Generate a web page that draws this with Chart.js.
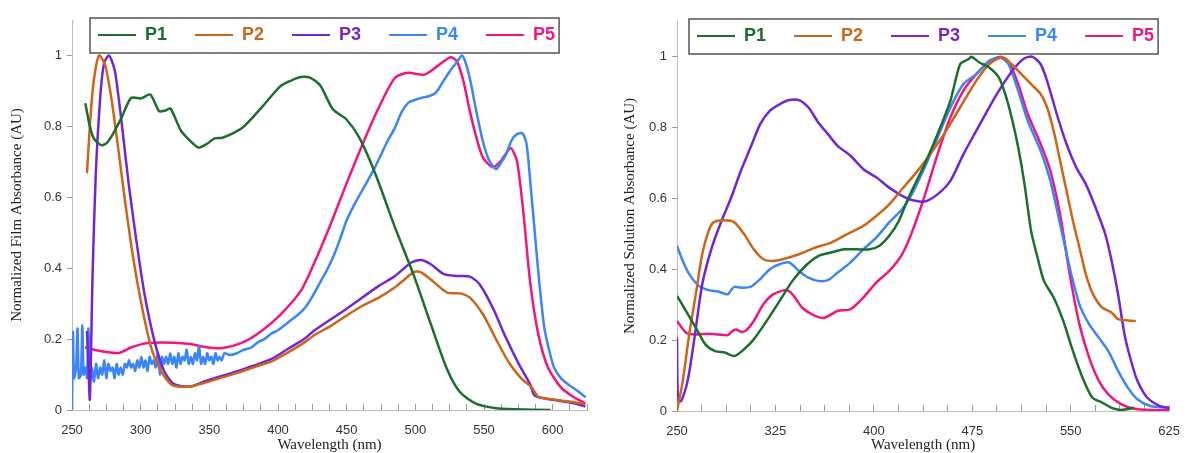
<!DOCTYPE html>
<html>
<head>
<meta charset="utf-8">
<script src="https://cdn.jsdelivr.net/npm/chart.js@4.4.1/dist/chart.umd.min.js"></script>
<style>
    html, body { margin: 0; padding: 0; background: #fff; }
    #wrap { position: relative; width: 1199px; height: 453px; }
    .panel { position: absolute; top: 0; }
</style>
</head>
<body>
<div id="wrap">
    <div class="panel" style="left:0;width:606px;height:453px"><canvas id="film-chart" width="606" height="453"></canvas></div>
    <div class="panel" style="left:606px;width:593px;height:453px"><canvas id="solution-chart" width="593" height="453"></canvas></div>
</div>
<script>
const seriesNames = ['P1', 'P2', 'P3', 'P4', 'P5'];
const seriesColors = ['#1b6e2c', '#cc6518', '#7424d8', '#3a86f8', '#f3157f'];

const yTicks = [0, 0.2, 0.4, 0.6, 0.8, 1];
const filmXLabels = [250, 300, 350, 400, 450, 500, 550, 600];
const solutionXLabels = [250, 325, 400, 475, 550, 625];

// film spectra: [wavelength nm, normalized absorbance]
const filmP1 = [[259.7,0.865],[263,0.80],[266,0.765],[271.3,0.747],[275,0.752],[279,0.773],[286,0.824],[293,0.88],[300.5,0.879],[307,0.89],[313.5,0.843],[318,0.845],[321.8,0.85],[329,0.79],[335,0.763],[342,0.74],[348,0.75],[353.8,0.766],[359.7,0.768],[374,0.796],[388,0.853],[402,0.914],[410,0.93],[416.6,0.939],[423.7,0.937],[430.8,0.915],[440,0.848],[449.7,0.82],[459.2,0.768],[471,0.665],[485.2,0.515],[499.4,0.374],[511.3,0.242],[523.1,0.115],[532.6,0.05],[544.5,0.017],[558.7,0.005],[572.9,0.002],[598.5,0]];
const filmP2 = [[260.9,0.668],[263,0.8],[265,0.9],[267.5,0.97],[269.7,1.0],[272,0.99],[274.4,0.97],[279,0.871],[283.9,0.73],[288.6,0.59],[294.5,0.43],[300.5,0.30],[307.6,0.177],[314.7,0.111],[321.8,0.073],[326.5,0.066],[336,0.066],[347.9,0.078],[359.7,0.092],[371.6,0.106],[383.4,0.122],[395.3,0.137],[407.1,0.162],[419,0.19],[426,0.21],[437.8,0.236],[449.7,0.266],[461.5,0.294],[473.4,0.317],[485.2,0.346],[492.3,0.369],[499.4,0.39],[504.2,0.388],[513.7,0.36],[523.1,0.331],[532.6,0.329],[539.7,0.317],[549.2,0.27],[558.7,0.2],[568.1,0.134],[577.6,0.087],[584.7,0.064],[589.5,0.038],[601.3,0.029],[615.5,0.022],[623.8,0.017]];
const filmP3 = [[260.9,0.223],[262,0.12],[263,0.03],[265,0.383],[267.3,0.665],[270.9,0.9],[273.5,0.98],[276.8,1.0],[279,0.985],[281.5,0.951],[286.3,0.806],[291,0.646],[296.9,0.477],[302.8,0.327],[310,0.195],[317,0.111],[324.2,0.073],[336,0.066],[347.9,0.083],[371.6,0.111],[395.3,0.144],[407.1,0.172],[419,0.2],[426,0.223],[449.7,0.285],[473.4,0.35],[485.2,0.378],[497.1,0.416],[504.2,0.423],[511.3,0.411],[520.8,0.383],[530.2,0.378],[539.7,0.376],[546.8,0.355],[556.3,0.289],[565.8,0.205],[575.3,0.13],[583.5,0.073],[587.1,0.04],[601.3,0.028],[615.5,0.019],[623.8,0.01]];
const filmP4 = [[250,0],[250.7,0.22],[251.5,0.09],[253,0.12],[254,0.23],[255,0.09],[256.5,0.1],[257.5,0.24],[258.5,0.1],[260,0.12],[261,0.09],[262,0.23],[263,0.08],[264.5,0.12],[266,0.08],[267.5,0.13],[269,0.09],[270.5,0.12],[272,0.1],[273.5,0.14],[275,0.09],[276.5,0.13],[278,0.11],[279.5,0.12],[281,0.09],[282.5,0.13],[284,0.1],[285.5,0.12],[287,0.1],[288.5,0.13],[290,0.12],[291.5,0.14],[293,0.12],[294.5,0.13],[296,0.11],[297.5,0.14],[299,0.12],[300.5,0.15],[302,0.12],[303.5,0.14],[305,0.11],[306.5,0.15],[308,0.13],[309.5,0.14],[311,0.12],[312.5,0.16],[314,0.1],[315.5,0.15],[317,0.13],[318.5,0.15],[320,0.13],[321.5,0.16],[323,0.13],[324.5,0.15],[326,0.12],[327.5,0.16],[329,0.13],[330.5,0.15],[332,0.14],[333.5,0.17],[335,0.13],[336.5,0.15],[338,0.13],[339.5,0.16],[341,0.14],[342.5,0.18],[344,0.13],[345.5,0.15],[347,0.13],[348.5,0.16],[350,0.14],[351.5,0.15],[353,0.13],[354.5,0.16],[356,0.14],[357.5,0.15],[359,0.14],[361,0.16],[365,0.155],[370,0.16],[375,0.17],[380,0.175],[385,0.19],[390,0.2],[395,0.215],[400,0.225],[405,0.24],[410,0.255],[415,0.27],[420,0.29],[425,0.32],[430,0.355],[435,0.39],[440,0.43],[445,0.48],[450,0.535],[455,0.575],[460,0.61],[465,0.645],[470,0.68],[475,0.72],[480,0.76],[485,0.795],[490,0.84],[495,0.867],[500,0.875],[505,0.881],[510,0.885],[515,0.895],[520,0.925],[525,0.955],[530,0.98],[534,1.0],[537,0.975],[540,0.93],[544,0.85],[549,0.76],[553,0.71],[556,0.69],[559,0.68],[562,0.695],[566,0.72],[570,0.76],[574,0.778],[578,0.78],[581,0.75],[584,0.63],[587,0.5],[590,0.37],[594,0.23],[598,0.16],[601,0.12],[606,0.09],[611,0.073],[618,0.054],[624,0.036]];
const filmP5 = [[259.5,0.177],[269.7,0.167],[283.9,0.161],[293.4,0.177],[305.2,0.189],[324.2,0.19],[336,0.186],[347.9,0.177],[359.7,0.175],[374,0.19],[388,0.223],[402,0.27],[416.6,0.336],[426,0.411],[437.8,0.519],[449.7,0.637],[461.5,0.749],[473.4,0.853],[485.2,0.937],[494.7,0.951],[506.6,0.946],[516,0.97],[525.5,0.995],[530.2,0.984],[535,0.928],[539.7,0.843],[544.5,0.768],[549.2,0.712],[556.3,0.685],[562.2,0.702],[569.3,0.738],[574,0.702],[578.8,0.552],[583.5,0.364],[589.5,0.214],[596.6,0.12],[606,0.064],[615.5,0.036],[623.8,0.019]];

// solution spectra
const solutionP1 = [[250,0.325],[256.9,0.282],[264.3,0.235],[271.6,0.188],[279,0.169],[286.4,0.165],[293.7,0.155],[301.1,0.174],[308.5,0.202],[318.3,0.254],[328.1,0.31],[338,0.367],[347.8,0.409],[357.6,0.437],[367.4,0.447],[377.3,0.456],[387.1,0.456],[396.9,0.456],[404.3,0.466],[411.7,0.494],[419,0.536],[426.4,0.602],[438.7,0.696],[448.5,0.781],[458.3,0.875],[465.7,0.978],[471.9,0.992],[474.3,0.999],[480.4,0.983],[487.8,0.969],[495.2,0.941],[500.1,0.894],[505,0.828],[510,0.743],[514.8,0.64],[519.8,0.508],[524.7,0.433],[529.6,0.367],[537,0.32],[544.3,0.254],[551.7,0.169],[559,0.094],[566.4,0.038],[573.8,0.024],[581.2,0.009],[588.6,0.003],[598.4,0.009]];
const solutionP2 = [[250,0],[254.4,0.085],[259.3,0.216],[264.3,0.329],[269.2,0.442],[274.1,0.508],[277.8,0.532],[286.4,0.538],[293.7,0.532],[301.1,0.499],[308.5,0.456],[315.8,0.428],[323.2,0.423],[330.6,0.428],[342.9,0.442],[355.2,0.461],[367.4,0.475],[379.7,0.499],[392,0.522],[401.8,0.55],[411.7,0.583],[421.5,0.626],[431.3,0.668],[441.1,0.715],[453.4,0.781],[465.7,0.856],[478,0.931],[487.8,0.978],[497.6,0.997],[505,0.978],[512.4,0.95],[519.8,0.922],[527.1,0.894],[532,0.856],[537,0.79],[541.9,0.706],[546.8,0.621],[551.7,0.536],[556.6,0.461],[561.5,0.386],[566.4,0.334],[573.8,0.292],[581.2,0.278],[586.1,0.259],[599.6,0.254]];
const solutionP3 = [[250,0.207],[250.8,0.03],[253.2,0.028],[258.1,0.085],[263,0.198],[269.2,0.357],[276.5,0.461],[283.9,0.536],[291.3,0.602],[298.6,0.677],[306,0.743],[313.4,0.809],[320.8,0.847],[328.1,0.865],[335.5,0.877],[342.9,0.877],[350.2,0.856],[357.6,0.814],[365,0.781],[372.3,0.748],[382.2,0.72],[392,0.682],[401.8,0.659],[411.7,0.63],[421.5,0.607],[428.9,0.595],[438.7,0.591],[448.5,0.611],[458.3,0.649],[468.2,0.724],[478,0.79],[487.8,0.856],[497.6,0.917],[507.5,0.969],[514.8,0.995],[521,0.999],[527.1,0.978],[532,0.931],[539.4,0.837],[546.8,0.753],[554.2,0.687],[561.5,0.64],[568.9,0.574],[576.3,0.499],[581.2,0.423],[586.1,0.329],[591,0.216],[596,0.141],[600.8,0.085],[608.2,0.038],[618,0.014],[625,0.009]];
const solutionP4 = [[250,0.466],[254.4,0.423],[259.3,0.386],[266.7,0.353],[274.1,0.341],[281.4,0.337],[288.8,0.329],[291,0.34],[293.7,0.35],[298.6,0.348],[306,0.35],[313.4,0.372],[320.8,0.4],[328.1,0.414],[335.5,0.419],[342.9,0.395],[350.2,0.376],[357.6,0.367],[365,0.369],[372.3,0.39],[382.2,0.419],[392,0.456],[401.8,0.489],[411.7,0.532],[421.5,0.569],[428.9,0.611],[438.7,0.687],[448.5,0.771],[458.3,0.856],[468.2,0.922],[478,0.95],[487.8,0.988],[496.4,0.997],[502.6,0.978],[510,0.903],[517.3,0.818],[527.1,0.734],[534.5,0.649],[541.9,0.527],[549.2,0.405],[556.6,0.301],[564,0.245],[571.4,0.207],[578.7,0.169],[586.1,0.113],[593.5,0.066],[600.8,0.033],[610.7,0.014],[625,0.009]];
const solutionP5 = [[250,0.254],[256.9,0.221],[264.3,0.216],[274.1,0.218],[281.4,0.216],[288.8,0.214],[292,0.225],[295,0.23],[298.5,0.224],[302.3,0.226],[308.5,0.254],[315.8,0.301],[323.2,0.329],[333,0.341],[338,0.329],[345.3,0.292],[355.2,0.268],[362.5,0.263],[372.3,0.282],[382.2,0.287],[392,0.32],[401.8,0.362],[411.7,0.395],[421.5,0.442],[428.9,0.503],[438.7,0.607],[448.5,0.724],[458.3,0.828],[468.2,0.903],[478,0.95],[487.8,0.986],[496.4,0.999],[502.6,0.986],[510,0.922],[517.3,0.837],[527.1,0.753],[534.5,0.677],[541.9,0.555],[549.2,0.386],[556.6,0.245],[564,0.151],[571.4,0.085],[578.7,0.047],[588.6,0.019],[600.8,0.005],[625,0.002]];

const tickFont = { family: "'Liberation Sans', Arial, sans-serif", size: 13 };
const titleFont = { family: "'Liberation Serif', 'Times New Roman', serif", size: 15, lineHeight: 1 };

// moves the legend onto the top of the plot and draws the frame round it
const legendBoxPlugin = {
    id: 'legendBox',
    afterLayout(chart, args, opts) {
        const lg = chart.legend;
        const pad = lg.options.labels.padding;
        const area = chart.chartArea;
        lg.left = area.left + opts.dx - pad;
        lg.right = chart.width;
        lg.top = area.top + opts.dy - pad;
        lg.bottom = lg.top + 70;
    },
    afterDraw(chart, args, opts) {
        const lg = chart.legend;
        const pad = lg.options.labels.padding;
        const ctx = chart.ctx;
        const x0 = lg.left + pad - 8;
        const itemTop = lg.top + pad;
        const w = lg.lineWidths[0] - pad + 12;
        ctx.save();
        ctx.strokeStyle = '#555';
        ctx.lineWidth = 1.5;
        ctx.strokeRect(x0, itemTop - 8, w, 35);
        ctx.restore();
    }
};

function buildDatasets(seriesList) {
    return seriesList.map((pairs, i) => ({
        label: seriesNames[i],
        data: pairs.map(p => ({ x: p[0], y: p[1] })),
        borderColor: seriesColors[i],
        backgroundColor: seriesColors[i],
        borderWidth: 2.5,
        pointRadius: 0,
        tension: 0.25,
        fill: false
    }));
}

function makeChart(canvasId, seriesList, cfg) {
    const ctx = document.getElementById(canvasId).getContext('2d');
    return new Chart(ctx, {
        type: 'line',
        data: { datasets: buildDatasets(seriesList) },
        plugins: [legendBoxPlugin],
        options: {
            responsive: false,
            animation: false,
            layout: { padding: cfg.padding },
            scales: {
                x: {
                    type: 'linear',
                    min: 250,
                    max: 625,
                    afterFit: scale => { scale.height = cfg.xHeight; },
                    ticks: {
                        stepSize: cfg.xStep,
                        autoSkip: false,
                        maxTicksLimit: 100,
                        maxRotation: 0,
                        font: tickFont,
                        color: '#333',
                        padding: 19,
                        callback: v => cfg.xLabels.some(l => Math.abs(l - v) < 1e-6) ? String(Math.round(v)) : ''
                    },
                    grid: { drawOnChartArea: false, tickLength: -6, color: '#999' },
                    border: { color: '#bdbdbd', width: 1 },
                    title: {
                        display: true,
                        text: 'Wavelength (nm)',
                        font: titleFont,
                        color: '#222',
                        padding: { top: 0, bottom: 0 }
                    }
                },
                y: {
                    min: 0,
                    max: 1.1,
                    afterFit: scale => { scale.width = cfg.yWidth; },
                    afterBuildTicks: scale => { scale.ticks = yTicks.map(v => ({ value: v })); },
                    ticks: {
                        font: tickFont,
                        color: '#333',
                        padding: 5,
                        callback: v => String(Math.round(v * 10) / 10)
                    },
                    grid: { drawOnChartArea: false, tickLength: 5, color: '#999' },
                    border: { color: '#bdbdbd', width: 1 },
                    title: {
                        display: true,
                        text: cfg.yTitle,
                        font: titleFont,
                        color: '#222',
                        padding: { top: cfg.yTitlePad, bottom: 0 }
                    }
                }
            },
            plugins: {
                legendBox: { dx: cfg.legendDx, dy: 6 },
                legend: {
                    position: 'top',
                    align: 'start',
                    fullSize: true,
                    maxHeight: 1,
                    labels: {
                        usePointStyle: true,
                        pointStyle: 'line',
                        pointStyleWidth: 38,
                        padding: 28,
                        font: { family: "'Liberation Sans', Arial, sans-serif", size: 18, weight: 'bold' },
                        generateLabels: chart => Chart.defaults.plugins.legend.labels.generateLabels(chart).map(item => {
                            item.fontColor = seriesColors[item.datasetIndex];
                            item.strokeStyle = seriesColors[item.datasetIndex];
                            item.lineWidth = 2;
                            return item;
                        })
                    }
                },
                tooltip: { enabled: false }
            }
        }
    });
}

makeChart('film-chart', [filmP1, filmP2, filmP3, filmP4, filmP5], {
    padding: { top: 19, right: 7, bottom: 0, left: 0 },
    xStep: 12.5,
    xLabels: filmXLabels,
    xHeight: 43,
    yWidth: 72,
    yTitle: 'Normalized Film Absorbance (AU)',
    yTitlePad: 10,
    legendDx: 26
});

makeChart('solution-chart', [solutionP1, solutionP2, solutionP3, solutionP4, solutionP5], {
    padding: { top: 20, right: 13, bottom: 0, left: 0 },
    xStep: 18.75,
    xLabels: solutionXLabels,
    xHeight: 42,
    yWidth: 71,
    yTitle: 'Normalized Solution Absorbance (AU)',
    yTitlePad: 17,
    legendDx: 20
});
</script>
</body>
</html>
